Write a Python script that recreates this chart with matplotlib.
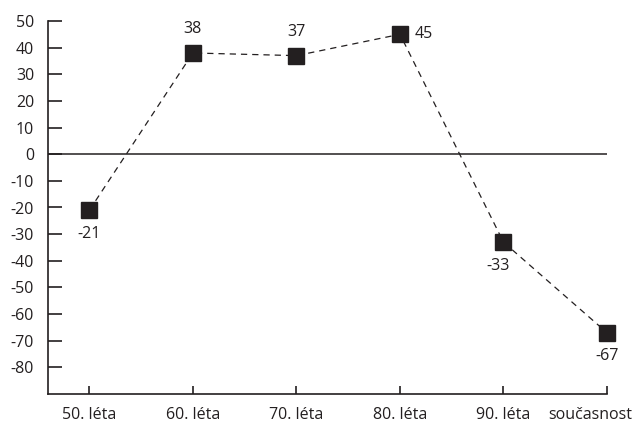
import matplotlib.pyplot as plt
from matplotlib.transforms import ScaledTranslation

plt.rcParams['font.family'] = ['Open Sans', 'DejaVu Sans']
plt.rcParams['axes.unicode_minus'] = False

categories = ['50. léta', '60. léta', '70. léta', '80. léta', '90. léta', 'současnost']
values = [-21, 38, 37, 45, -33, -67]
yticks = list(range(-80, 51, 10))

# label offsets (points) relative to each marker
label_offsets = [(0, -17), (0, 17), (0, 17), (17, 0), (-4, -17), (0, -17)]

dark = '#231f20'

fig = plt.figure(figsize=(6.37, 4.23), dpi=100)
ax = fig.add_axes([48 / 637, 1 - 394 / 423, (607 - 48) / 637, (394 - 21) / 423])

x = list(range(len(categories)))
ax.plot(x, values, linestyle=(0, (5, 4)), color=dark, linewidth=0.9,
        marker='s', markersize=12, markerfacecolor=dark, markeredgecolor=dark,
        clip_on=False, zorder=3)
ax.axhline(0, color=dark, linewidth=1.1)

for xi, v, (dx, dy) in zip(x, values, label_offsets):
    ax.annotate(str(v), (xi, v), xytext=(dx, dy), textcoords='offset points',
                ha='center', va='center', fontsize=11.5, color=dark)

ax.set_xlim(-0.4, 5.0)
ax.set_ylim(-90, 50)
ax.set_xticks(x)
ax.set_xticklabels(categories)
ax.set_yticks(yticks)

for s in ['top', 'right']:
    ax.spines[s].set_visible(False)
for s in ['left', 'bottom']:
    ax.spines[s].set_linewidth(1.2)
    ax.spines[s].set_color(dark)

ax.tick_params(axis='y', direction='in', length=10, width=1.2, color=dark,
               labelsize=11.5, labelcolor=dark, pad=10)
ax.tick_params(axis='x', direction='in', length=6, width=1.2, color=dark,
               labelsize=11.5, labelcolor=dark, pad=9)

# last label sits shifted left so it stays inside the figure
last = ax.get_xticklabels()[-1]
last.set_transform(last.get_transform() + ScaledTranslation(-12 / 72, 0, fig.dpi_scale_trans))

fig.savefig('out.png', dpi=100)
